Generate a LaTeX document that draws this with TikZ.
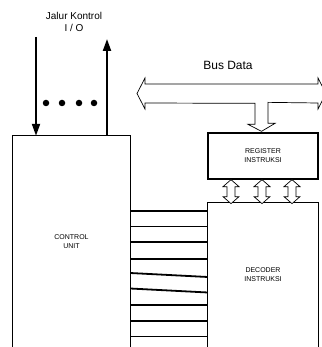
\documentclass[tikz,border=0pt]{standalone}
\usepackage{fontspec}
\setmainfont{Liberation Sans}
\usetikzlibrary{arrows.meta,calc}
\begin{document}
\begin{tikzpicture}[x=1pt,y=-1pt,
  boxframe/.style={draw=none,inner sep=0pt,align=center,font=\fontsize{7}{9}\selectfont},
  edge/.style={line width=1.3pt,line join=miter},
  wire/.style={line width=1.8pt},
  sig/.style={line width=2pt,-{Triangle[length=12pt,width=8pt]}},
  hollow/.style={draw,line width=0.7pt,fill=white,line join=miter},
  dot/.style={circle,fill=black,inner sep=0pt,minimum size=6.5pt}]
\useasboundingbox (0,0) rectangle (321,347);
% boxes
\node[boxframe,minimum width=117pt,minimum height=211pt] (cu) at (71.5,241.5) {CONTROL\\UNIT};
\draw[edge] (cu.south west) -- (cu.north west) -- (cu.north east) -- (cu.south east);
\node[boxframe,draw,line width=1.3pt,minimum width=110pt,minimum height=46pt] (reg) at (263,156) {REGISTER\\INSTRUKSI};
\node[boxframe,minimum width=110pt,minimum height=144pt] (dec) at (263,275) {DECODER\\INSTRUKSI};
\draw[edge] (dec.south west) -- (dec.north west) -- (dec.north east) -- (dec.south east);
% wires between control unit and decoder
\foreach \ya/\yb in {211/211,226.5/226.5,242/242,259/259,273/277,288.5/292.5,305/305,321/321,336.5/336.5}
  \draw[wire] (cu.east |- 0,\ya) -- (dec.west |- 0,\yb);
% control lines
\node[font=\fontsize{10}{12}\selectfont,inner sep=0pt,align=center] (jk) at (74,22) {Jalur Kontrol\\I / O};
\coordinate (inTop) at (36,37);
\coordinate (outTop) at (107,39);
\draw[sig] (inTop) -- (inTop |- cu.north);
\draw[sig] (outTop |- cu.north) -- (outTop);
\node[dot] (d1) at (46,103) {};
\node[dot] (d2) at (62,103) {};
\node[dot] (d3) at (79,103) {};
\node[dot] (d4) at (94,103) {};
% bus data
\node[font=\fontsize{12}{14}\selectfont,inner sep=0pt] (bus) at (228,65) {Bus Data};
\draw[hollow] ($(reg.north)+(-1.5,-1)$) -- ++(13.5,-8) -- ++(-7,0) -- ++(0,-21) -- (318,103) -- (318,109) -- (326,93.5) -- (318,78) -- (318,84) -- (145,84) -- (145,78) -- (137,93.5) -- (145,109) -- (145,103) -- ($(reg.north)+(-8,-29)$) -- ++(0,21) -- ++(-7,0) -- cycle;
% bidirectional arrows
\foreach \cx in {-32,-1,29}
  \draw[hollow] ($(reg.south)+(\cx,0)$) -- ++(8,7) -- ++(-4,0) -- ++(0,10) -- ++(4,0) -- ++(-8,7) -- ++(-8,-7) -- ++(4,0) -- ++(0,-10) -- ++(-4,0) -- cycle;
\end{tikzpicture}
\end{document}
